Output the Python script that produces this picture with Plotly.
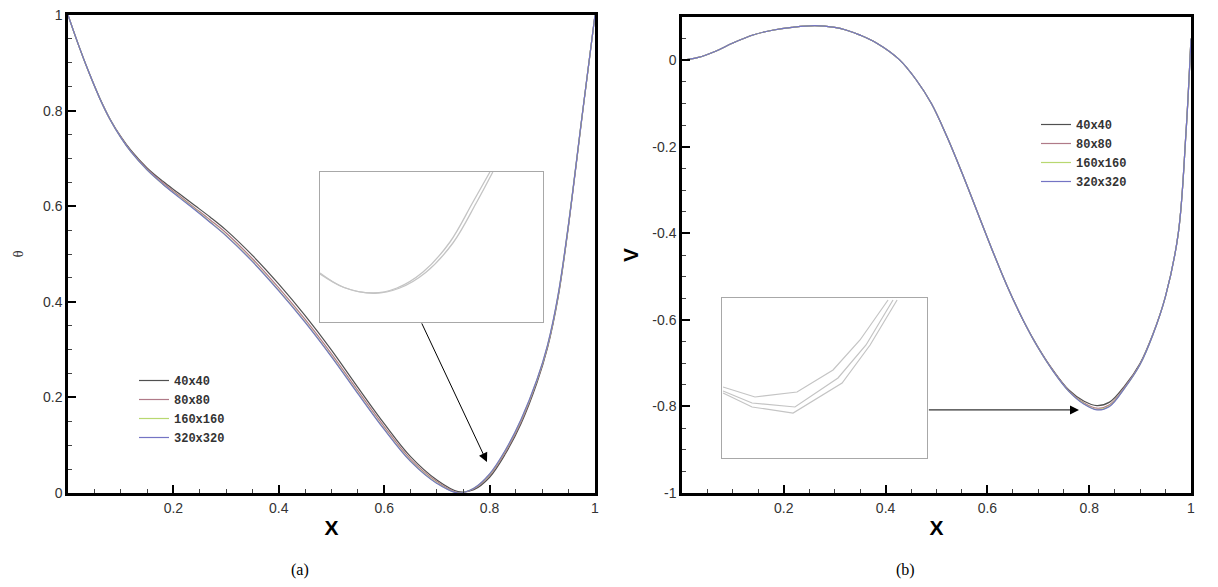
import plotly.graph_objects as go

# ---------------- (a) temperature profiles ----------------
x_a = [0, 0.02, 0.04, 0.06, 0.08, 0.10, 0.12, 0.15, 0.18, 0.21, 0.24, 0.27, 0.30, 0.35, 0.40, 0.45,
       0.50, 0.55, 0.60, 0.65, 0.70, 0.74, 0.77, 0.80, 0.83, 0.86, 0.89, 0.91, 0.93, 0.95, 0.975, 1.0]
theta_40 = [1.0, 0.937, 0.879, 0.827, 0.782, 0.746, 0.716, 0.680, 0.652, 0.627, 0.602, 0.577, 0.550, 0.497,
            0.437, 0.371, 0.299, 0.221, 0.145, 0.076, 0.027, 0.003, 0.007, 0.033, 0.082, 0.146, 0.231,
            0.304, 0.409, 0.561, 0.783, 1.0]
theta_80 = [1.0, 0.937, 0.879, 0.826, 0.781, 0.745, 0.714, 0.678, 0.649, 0.623, 0.597, 0.571, 0.544, 0.490,
            0.429, 0.363, 0.291, 0.214, 0.139, 0.071, 0.024, 0.001, 0.009, 0.037, 0.086, 0.150, 0.235,
            0.307, 0.412, 0.563, 0.784, 1.0]
theta_160 = [1.0, 0.937, 0.879, 0.826, 0.781, 0.744, 0.713, 0.676, 0.646, 0.620, 0.594, 0.567, 0.539, 0.485,
             0.424, 0.358, 0.286, 0.209, 0.134, 0.067, 0.021, 0.0, 0.010, 0.039, 0.089, 0.154, 0.237,
             0.309, 0.414, 0.565, 0.785, 1.0]
theta_320 = [1.0, 0.937, 0.879, 0.826, 0.781, 0.744, 0.713, 0.676, 0.646, 0.619, 0.593, 0.566, 0.538, 0.484,
             0.423, 0.357, 0.285, 0.208, 0.133, 0.066, 0.020, 0.0, 0.010, 0.040, 0.090, 0.155, 0.238,
             0.310, 0.415, 0.565, 0.785, 1.0]
labels_a = ["40x40", "80x80", "160x160", "320x320"]

# inset (a): zoom of the minimum region
inset_a_x1 = [0.700, 0.7103, 0.7238, 0.7345, 0.7462, 0.7583, 0.7686, 0.7762]
inset_a_y1 = [0.0096, 0.0040, 0.0016, 0.0036, 0.0100, 0.0220, 0.0380, 0.0500]
inset_a_x2 = [0.700, 0.7110, 0.7245, 0.7355, 0.7474, 0.7596, 0.7700, 0.7775]
inset_a_y2 = [0.0092, 0.0037, 0.0015, 0.0035, 0.0098, 0.0216, 0.0375, 0.0500]

# ---------------- (b) vertical velocity profiles ----------------
x_b = [0, 0.03, 0.066, 0.10, 0.141, 0.18, 0.216, 0.261, 0.30, 0.322, 0.35, 0.382, 0.427, 0.46,
       0.49, 0.52, 0.55, 0.58, 0.61, 0.64, 0.67, 0.70, 0.73, 0.76, 0.79, 0.815, 0.84, 0.87,
       0.90, 0.925, 0.95, 0.975, 0.99, 1.0]
v_40 = [0, 0.006, 0.021, 0.040, 0.059, 0.070, 0.076, 0.080, 0.076, 0.070, 0.058, 0.040, 0.0015, -0.045,
        -0.100, -0.175, -0.260, -0.350, -0.440, -0.525, -0.600, -0.664, -0.718, -0.762, -0.788, -0.798,
        -0.790, -0.752, -0.700, -0.633, -0.545, -0.40, -0.17, 0.05]
v_80 = [0, 0.006, 0.021, 0.040, 0.059, 0.070, 0.076, 0.080, 0.076, 0.070, 0.058, 0.040, 0.0015, -0.045,
        -0.100, -0.175, -0.260, -0.350, -0.440, -0.525, -0.600, -0.665, -0.719, -0.764, -0.792, -0.804,
        -0.796, -0.755, -0.702, -0.634, -0.545, -0.40, -0.17, 0.05]
v_160 = [0, 0.006, 0.021, 0.040, 0.059, 0.070, 0.076, 0.080, 0.076, 0.070, 0.058, 0.040, 0.0015, -0.045,
         -0.100, -0.175, -0.260, -0.350, -0.440, -0.525, -0.600, -0.665, -0.720, -0.765, -0.794, -0.807,
         -0.799, -0.757, -0.703, -0.635, -0.545, -0.40, -0.17, 0.05]
v_320 = [0, 0.006, 0.021, 0.040, 0.059, 0.070, 0.076, 0.080, 0.076, 0.070, 0.058, 0.040, 0.0015, -0.045,
         -0.100, -0.175, -0.260, -0.350, -0.440, -0.525, -0.600, -0.665, -0.720, -0.765, -0.795, -0.808,
         -0.800, -0.757, -0.703, -0.635, -0.545, -0.40, -0.17, 0.05]
labels_b = ["40x40", "80x80", "160x160", "320x320"]

# inset (b): zoom of the minimum region
inset_b_x1 = [0.7406, 0.7593, 0.7839, 0.8050, 0.8208, 0.8372]
inset_b_y1 = [-0.8045, -0.8095, -0.8070, -0.7960, -0.7810, -0.7610]
inset_b_x2 = [0.7406, 0.7576, 0.7827, 0.8079, 0.8243, 0.8401]
inset_b_y2 = [-0.8065, -0.8125, -0.8145, -0.8000, -0.7835, -0.7610]
inset_b_x3 = [0.7406, 0.7576, 0.7816, 0.8103, 0.8267, 0.8425]
inset_b_y3 = [-0.8075, -0.8145, -0.8175, -0.8025, -0.7835, -0.7610]

colors = ["#505050", "#b07a88", "#b8d870", "#7474c4"]

W, H = 1218, 587
fig = go.Figure()

for lab, yy, c in zip(labels_a, [theta_40, theta_80, theta_160, theta_320], colors):
    fig.add_trace(go.Scatter(x=x_a, y=yy, mode="lines", name=lab, line=dict(color=c, width=1.2, shape="spline"),
                             xaxis="x", yaxis="y", legend="legend"))
for lab, yy, c in zip(labels_b, [v_40, v_80, v_160, v_320], colors):
    fig.add_trace(go.Scatter(x=x_b, y=yy, mode="lines", name=lab, line=dict(color=c, width=1.2, shape="spline"),
                             xaxis="x2", yaxis="y2", legend="legend2"))

inset_col = "#c4c4c4"
for xx, yy in [(inset_a_x1, inset_a_y1), (inset_a_x2, inset_a_y2)]:
    fig.add_trace(go.Scatter(x=xx, y=yy, mode="lines", line=dict(color=inset_col, width=1.3, shape="spline"),
                             xaxis="x3", yaxis="y3", showlegend=False, hoverinfo="skip"))
for xx, yy in [(inset_b_x1, inset_b_y1), (inset_b_x2, inset_b_y2), (inset_b_x3, inset_b_y3)]:
    fig.add_trace(go.Scatter(x=xx, y=yy, mode="lines", line=dict(color=inset_col, width=1.2),
                             xaxis="x4", yaxis="y4", showlegend=False, hoverinfo="skip"))

tickfont = dict(family="Liberation Sans, Arial, sans-serif", size=14, color="#333333")
common = dict(showgrid=False, zeroline=False, showline=True, linecolor="black", linewidth=2.5, mirror=True,
              ticks="inside", ticklen=8, tickwidth=2, tickcolor="black", tickfont=tickfont, automargin=False,
              minor=dict(ticks="inside", ticklen=4, tickwidth=1, tickcolor="#444444", dtick=0.05))

def px_dom(a, b, total):
    return [a / total, b / total]

xd_a = px_dom(68, 595, W)
xd_b = px_dom(682, 1191, W)
yd_a = [1 - 493 / H, 1 - 15 / H]
yd_b = [1 - 493 / H, 1 - 17 / H]

xticks = [0.2, 0.4, 0.6, 0.8, 1.0]
xtext = ["0.2", "0.4", "0.6", "0.8", "1"]
ya_ticks = [0, 0.2, 0.4, 0.6, 0.8, 1.0]
ya_text = ["0", "0.2", "0.4", "0.6", "0.8", "1"]
yb_ticks = [0, -0.2, -0.4, -0.6, -0.8, -1.0]
yb_text = ["0", "-0.2", "-0.4", "-0.6", "-0.8", "-1"]

xtitle_font = dict(family="Liberation Sans, Arial, sans-serif", size=21, color="black")

inset_axis = dict(showgrid=False, zeroline=False, showline=True, linecolor="#a8a8a8", linewidth=1,
                  mirror=True, ticks="", showticklabels=False, automargin=False)

legend_font = dict(family="Liberation Mono, Courier New, monospace", size=12, color="#333", weight="bold")

fig.update_layout(
    width=W, height=H, margin=dict(l=0, r=0, t=0, b=0, autoexpand=False),
    paper_bgcolor="white", plot_bgcolor="white",
    xaxis=dict(common, domain=xd_a, range=[0, 1], tickvals=xticks, ticktext=xtext, anchor="y",
               title=dict(text="<b>X</b>", font=xtitle_font, standoff=6)),
    yaxis=dict(common, domain=yd_a, range=[0, 1], tickvals=ya_ticks, ticktext=ya_text, anchor="x",
               title=dict(text="θ", font=dict(family="Liberation Serif, serif", size=15, color="#333"), standoff=16)),
    xaxis2=dict(common, domain=xd_b, range=[0, 1], tickvals=xticks, ticktext=xtext, anchor="y2",
                title=dict(text="<b>X</b>", font=xtitle_font, standoff=6)),
    yaxis2=dict(common, domain=yd_b, range=[-1, 0.1], tickvals=yb_ticks, ticktext=yb_text, anchor="x2",
                title=dict(text="<b>V</b>", font=xtitle_font, standoff=8)),
    xaxis3=dict(inset_axis, domain=px_dom(320, 543, W), range=[0.70, 0.80], anchor="y3"),
    yaxis3=dict(inset_axis, domain=[1 - 322 / H, 1 - 172 / H], range=[-0.01, 0.05], anchor="x3"),
    xaxis4=dict(inset_axis, domain=px_dom(722, 927, W), range=[0.74, 0.86], anchor="y4"),
    yaxis4=dict(inset_axis, domain=[1 - 458 / H, 1 - 298 / H], range=[-0.84, -0.76], anchor="x4"),
    legend=dict(x=134 / W, y=1 - 366 / H, xanchor="left", yanchor="top", bgcolor="rgba(0,0,0,0)",
                font=legend_font, tracegroupgap=0, itemwidth=30),
    legend2=dict(x=1036 / W, y=1 - 110 / H, xanchor="left", yanchor="top", bgcolor="rgba(0,0,0,0)",
                 font=legend_font, tracegroupgap=0, itemwidth=30),
    showlegend=True,
)

fig.add_annotation(x=0.795, y=0.065, ax=0.670, ay=0.358, xref="x", yref="y", axref="x", ayref="y",
                   text="", showarrow=True, arrowhead=2, arrowsize=1.8, arrowwidth=1, arrowcolor="black")
fig.add_annotation(x=0.78, y=-0.808, ax=0.482, ay=-0.808, xref="x2", yref="y2", axref="x2", ayref="y2",
                   text="", showarrow=True, arrowhead=2, arrowsize=1.8, arrowwidth=1, arrowcolor="black")

cap_font = dict(family="Liberation Serif, Times New Roman, serif", size=16, color="black")
fig.add_annotation(x=300 / W, y=1 - 570 / H, xref="paper", yref="paper", text="(a)", showarrow=False,
                   font=cap_font, xanchor="center", yanchor="middle")
fig.add_annotation(x=905 / W, y=1 - 570 / H, xref="paper", yref="paper", text="(b)", showarrow=False,
                   font=cap_font, xanchor="center", yanchor="middle")

fig.write_html("out.html", post_script="document.body.style.margin='0';",
               config={"displayModeBar": False})
